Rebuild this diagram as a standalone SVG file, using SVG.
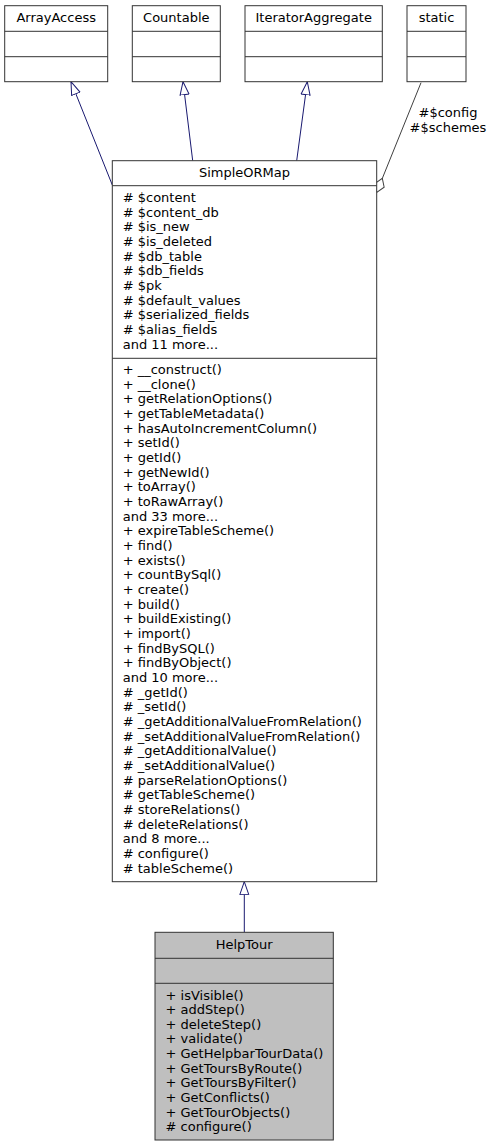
<svg xmlns="http://www.w3.org/2000/svg" width="491" height="1147" viewBox="0 0 491 1147">
<style>
text{font-family:"DejaVu Sans","Liberation Sans",sans-serif;font-size:13px;fill:#000}
.c{text-anchor:middle}
.box{fill:#fff;stroke:#333;stroke-width:1}
.hl{fill:#bfbfbf;stroke:#333;stroke-width:1}
.div{stroke:#333;stroke-width:1;fill:none}
.inh{stroke:#191970;stroke-width:1;fill:none;marker-end:url(#tri)}
.agg{stroke:#404040;stroke-width:1;fill:none;marker-end:url(#dia)}
</style>
<defs>
<marker id="tri" markerUnits="userSpaceOnUse" viewBox="0 -6 14 12" markerWidth="14" markerHeight="12" refX="13.5" refY="0" orient="auto">
<path d="M0.5,-4.5 L13.5,0 L0.5,4.5 Z" fill="#fff" stroke="#191970" stroke-width="1"/>
</marker>
<marker id="dia" markerUnits="userSpaceOnUse" viewBox="0 -6 16 12" markerWidth="16" markerHeight="12" refX="15.5" refY="0" orient="auto">
<path d="M0.5,0 L8,-5 L15.5,0 L8,5 Z" fill="#fff" stroke="#404040" stroke-width="1"/>
</marker>
</defs>

<g id="edges">
<path class="inh" d="M112.3,185 L71,81.7"/>
<path class="inh" d="M192.7,160.7 L183,81.7"/>
<path class="inh" d="M296.7,160.7 L307.3,81.7"/>
<path class="agg" d="M421,82.7 L376.7,192.3"/>
<text class="c" x="448" y="117.2">#$config</text>
<text class="c" x="448" y="131.8">#$schemes</text>
<path class="inh" d="M244.3,932.3 L244.3,881.7"/>
</g>

<g id="ArrayAccess">
<rect class="box" x="4.7" y="5.7" width="103" height="76"/>
<path class="div" d="M4.7,31.3 H107.7 M4.7,56.7 H107.7"/>
<text class="c" x="56.2" y="21.8">ArrayAccess</text>
</g>

<g id="Countable">
<rect class="box" x="132.3" y="5.7" width="88" height="76"/>
<path class="div" d="M132.3,31.3 H220.3 M132.3,56.7 H220.3"/>
<text class="c" x="176.3" y="21.8">Countable</text>
</g>

<g id="IteratorAggregate">
<rect class="box" x="245" y="5.7" width="137.3" height="76"/>
<path class="div" d="M245,31.3 H382.3 M245,56.7 H382.3"/>
<text class="c" x="313.7" y="21.8">IteratorAggregate</text>
</g>

<g id="static">
<rect class="box" x="407" y="5.7" width="59" height="76"/>
<path class="div" d="M407,31.3 H466 M407,56.7 H466"/>
<text class="c" x="436.5" y="21.8">static</text>
</g>

<g id="SimpleORMap">
<rect class="box" x="112.3" y="160.7" width="264.4" height="721"/>
<path class="div" d="M112.3,185.7 H376.7 M112.3,358.3 H376.7"/>
<text class="c" x="244.5" y="177.2">SimpleORMap</text>
<text x="122.7" y="201.8"># $content</text>
<text x="122.7" y="216.5"># $content_db</text>
<text x="122.7" y="231.1"># $is_new</text>
<text x="122.7" y="245.8"># $is_deleted</text>
<text x="122.7" y="260.5"># $db_table</text>
<text x="122.7" y="275.1"># $db_fields</text>
<text x="122.7" y="289.8"># $pk</text>
<text x="122.7" y="304.5"># $default_values</text>
<text x="122.7" y="319.2"># $serialized_fields</text>
<text x="122.7" y="333.8"># $alias_fields</text>
<text x="122.7" y="348.5">and 11 more...</text>
<text x="122.7" y="373.8">+ __construct()</text>
<text x="122.7" y="388.5">+ __clone()</text>
<text x="122.7" y="403.1">+ getRelationOptions()</text>
<text x="122.7" y="417.8">+ getTableMetadata()</text>
<text x="122.7" y="432.5">+ hasAutoIncrementColumn()</text>
<text x="122.7" y="447.2">+ setId()</text>
<text x="122.7" y="461.8">+ getId()</text>
<text x="122.7" y="476.5">+ getNewId()</text>
<text x="122.7" y="491.2">+ toArray()</text>
<text x="122.7" y="505.8">+ toRawArray()</text>
<text x="122.7" y="520.5">and 33 more...</text>
<text x="122.7" y="535.2">+ expireTableScheme()</text>
<text x="122.7" y="549.8">+ find()</text>
<text x="122.7" y="564.5">+ exists()</text>
<text x="122.7" y="579.2">+ countBySql()</text>
<text x="122.7" y="593.8">+ create()</text>
<text x="122.7" y="608.5">+ build()</text>
<text x="122.7" y="623.2">+ buildExisting()</text>
<text x="122.7" y="637.9">+ import()</text>
<text x="122.7" y="652.5">+ findBySQL()</text>
<text x="122.7" y="667.2">+ findByObject()</text>
<text x="122.7" y="681.9">and 10 more...</text>
<text x="122.7" y="696.5"># _getId()</text>
<text x="122.7" y="711.2"># _setId()</text>
<text x="122.7" y="725.9"># _getAdditionalValueFromRelation()</text>
<text x="122.7" y="740.5"># _setAdditionalValueFromRelation()</text>
<text x="122.7" y="755.2"># _getAdditionalValue()</text>
<text x="122.7" y="769.9"># _setAdditionalValue()</text>
<text x="122.7" y="784.6"># parseRelationOptions()</text>
<text x="122.7" y="799.2"># getTableScheme()</text>
<text x="122.7" y="813.9"># storeRelations()</text>
<text x="122.7" y="828.6"># deleteRelations()</text>
<text x="122.7" y="843.2">and 8 more...</text>
<text x="122.7" y="857.9"># configure()</text>
<text x="122.7" y="872.6"># tableScheme()</text>
</g>

<g id="HelpTour">
<rect class="hl" x="155" y="932.3" width="178.3" height="207.7"/>
<path class="div" d="M155,958.3 H333.3 M155,983.3 H333.3"/>
<text class="c" x="244.2" y="948.5">HelpTour</text>
<text x="165.5" y="999.5">+ isVisible()</text>
<text x="165.5" y="1014.1">+ addStep()</text>
<text x="165.5" y="1028.8">+ deleteStep()</text>
<text x="165.5" y="1043.4">+ validate()</text>
<text x="165.5" y="1058">+ GetHelpbarTourData()</text>
<text x="165.5" y="1072.7">+ GetToursByRoute()</text>
<text x="165.5" y="1087.3">+ GetToursByFilter()</text>
<text x="165.5" y="1101.9">+ GetConflicts()</text>
<text x="165.5" y="1116.5">+ GetTourObjects()</text>
<text x="165.5" y="1131.2"># configure()</text>
</g>
</svg>
